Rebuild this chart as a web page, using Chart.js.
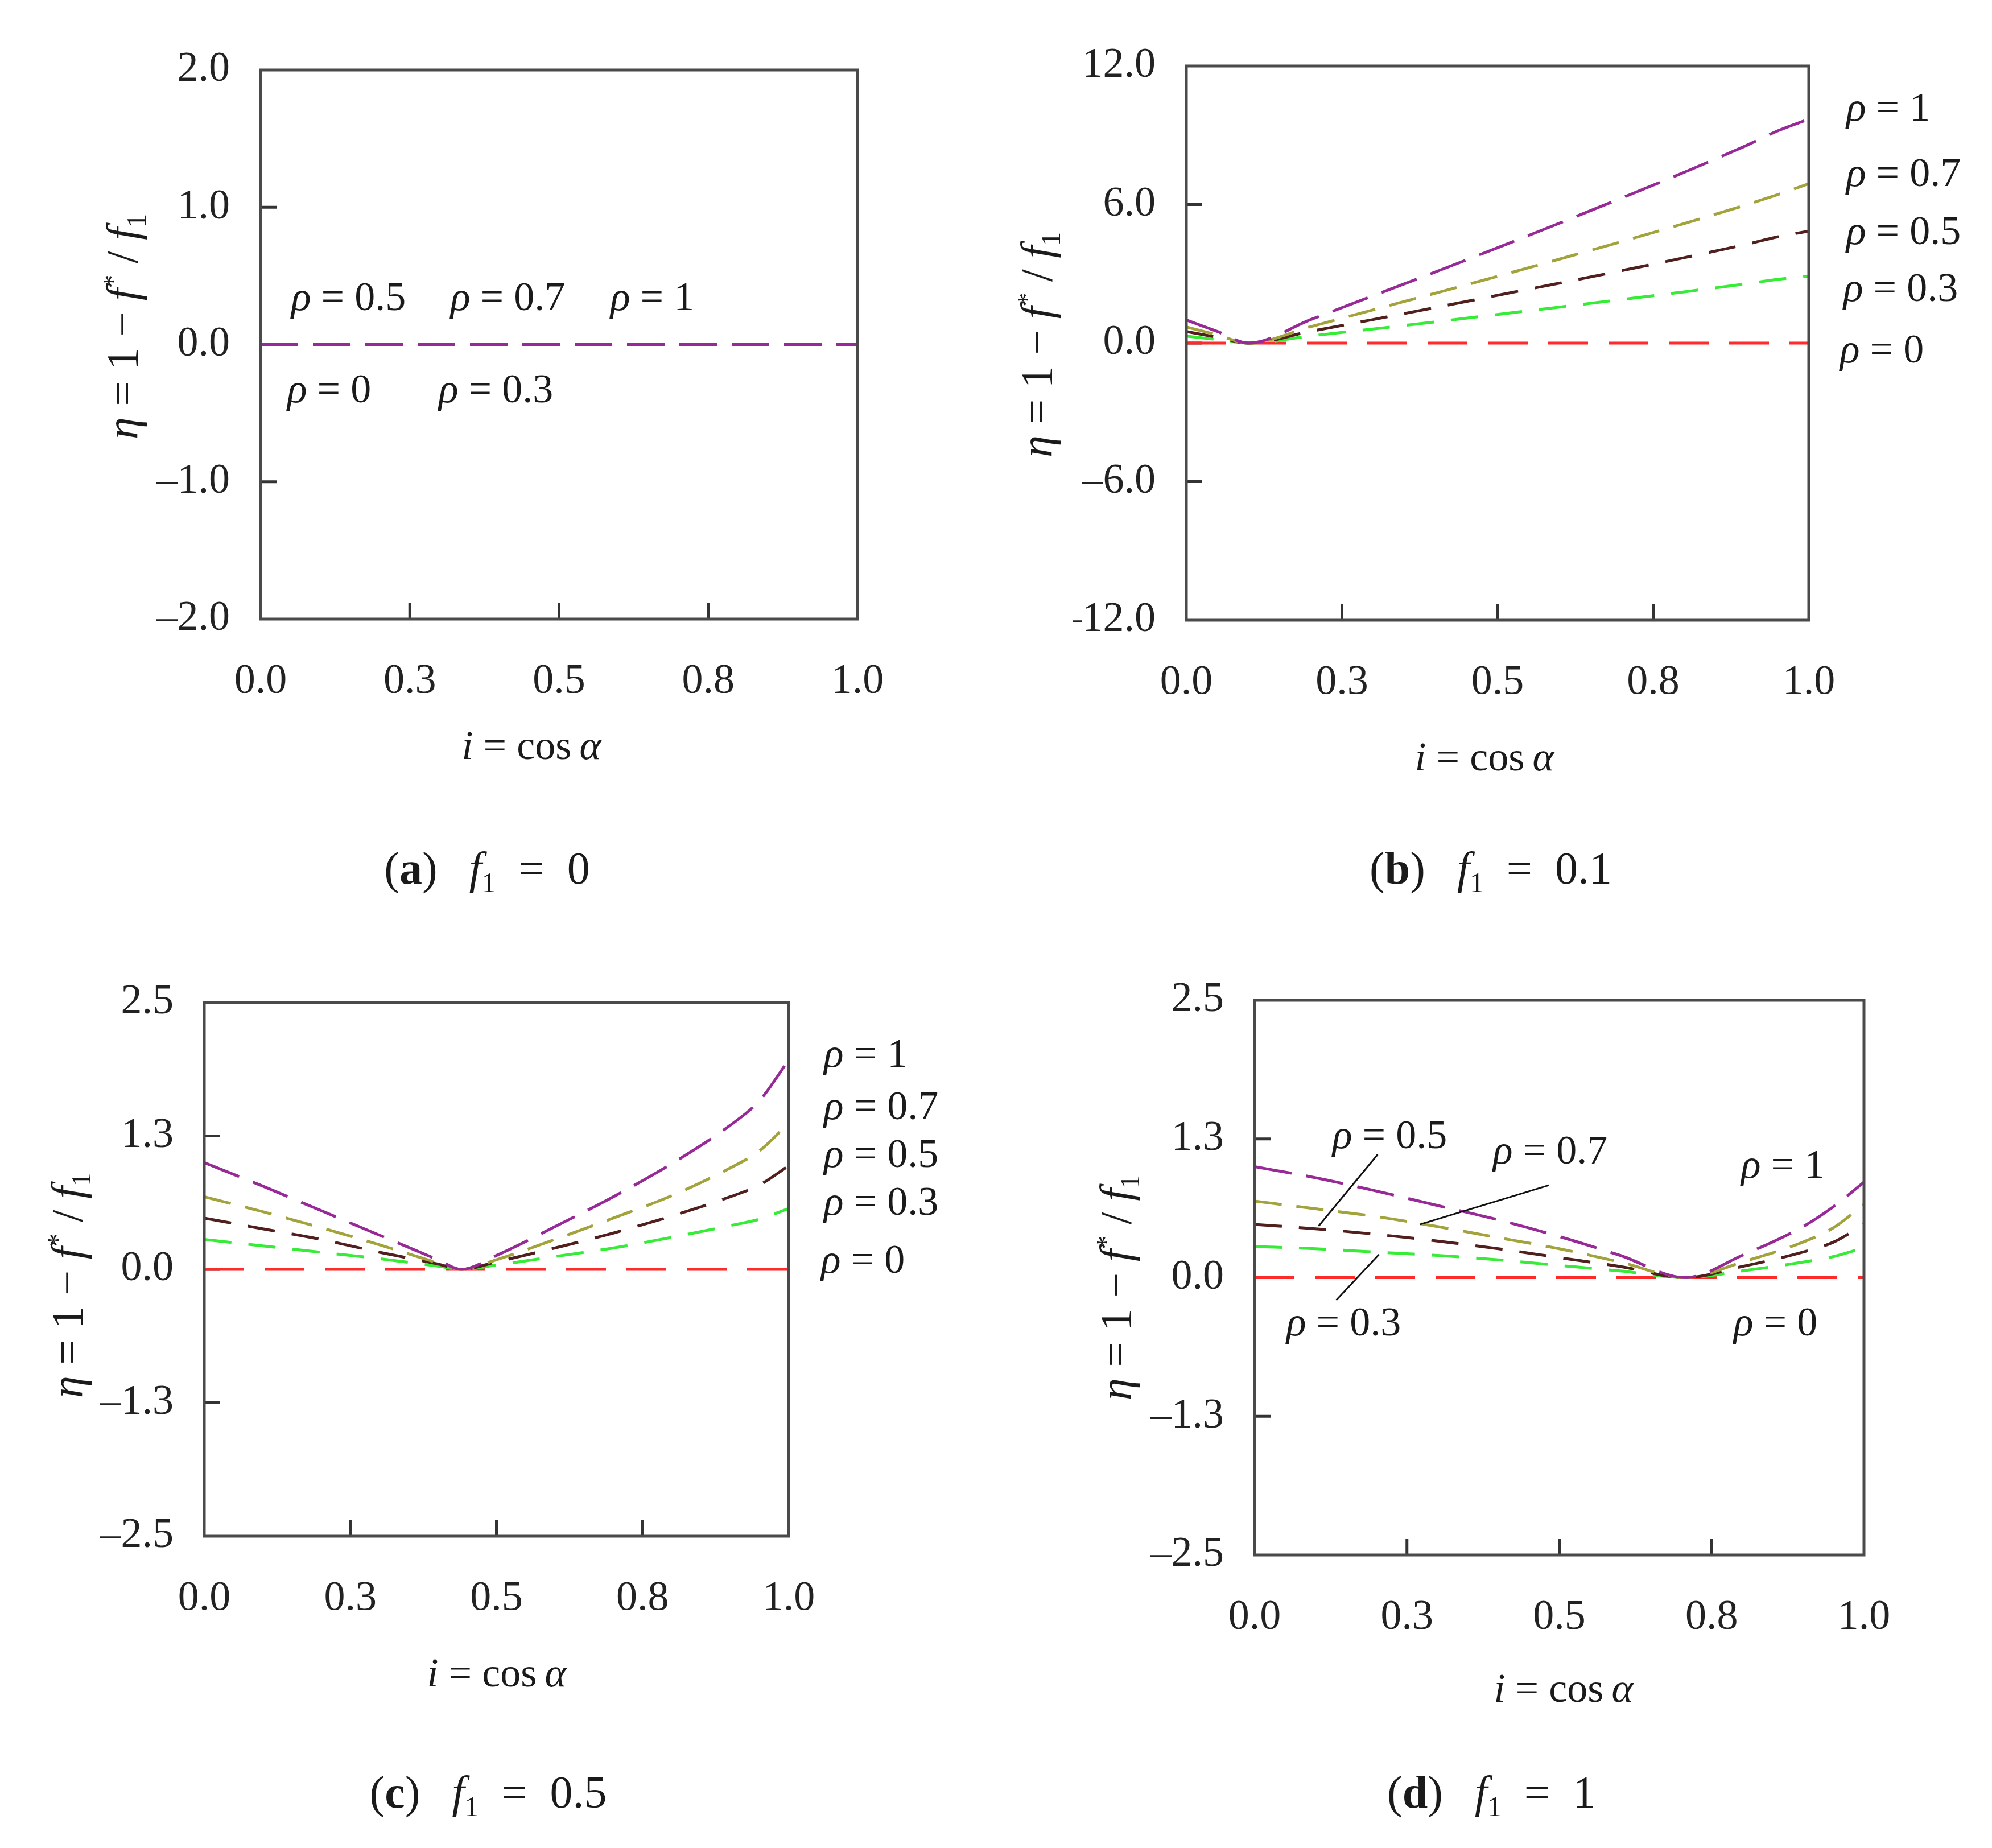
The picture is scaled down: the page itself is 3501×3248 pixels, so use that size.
<!DOCTYPE html>
<html>
<head>
<meta charset="utf-8">
<script src="https://cdn.jsdelivr.net/npm/chart.js@4.4.1/dist/chart.umd.min.js"></script>
<style>
  html, body { margin: 0; padding: 0; background: #fff; }
  #page { position: relative; width: 3501px; height: 3248px; overflow: hidden;
          font-family: "Liberation Serif", "Times New Roman", serif; color: #1a1a1a; }
  #page canvas { position: absolute; }
  .t { position: absolute; white-space: nowrap; line-height: 1; font-size: 72px; }
  .lbl { transform: translate(0, -50%); }
  .mid { transform: translate(-50%, -50%); }
  .cap { font-size: 80px; }
  .ytitle { font-size: 78px; transform: translate(-50%, -50%) rotate(-90deg); }
  .t sub { font-size: 0.62em; vertical-align: -0.3em; line-height: 0; }
  .t sup { font-size: 0.62em; vertical-align: 0.55em; line-height: 0; }
</style>
</head>
<body>
<div id="page"></div>
<script>
// ---------- data ----------
const xTickValues = [0, 0.25, 0.5, 0.75, 1];
const xTickLabels = ["0.0", "0.3", "0.5", "0.8", "1.0"];
const rhoLabels = ["ρ = 1", "ρ = 0.7", "ρ = 0.5", "ρ = 0.3", "ρ = 0"];

// (a) f1 = 0
const yTicksA = [-2, -1, 0, 1, 2];
const yLabelsA = ["–2.0", "–1.0", "0.0", "1.0", "2.0"];
const xA = [0, 1];
const a_rho1 = [0, 0];
const a_rho07 = [0, 0];
const a_rho05 = [0, 0];
const a_rho03 = [0, 0];
const a_rho0 = [0, 0];

// (b) f1 = 0.1
const yTicksB = [-12, -6, 0, 6, 12];
const yLabelsB = ["–12.0", "–6.0", "0.0", "6.0", "12.0"];
const xB = [0, 0.05, 0.1, 0.2, 0.3, 0.4, 0.5, 0.6, 0.7, 0.8, 0.9, 0.95, 1.0];
const b_rho1 = [1.0, 0.5, 0, 1.02, 2.05, 3.08, 4.13, 5.2, 6.29, 7.4, 8.56, 9.19, 9.7];
const b_rho07 = [0.7, 0.35, 0, 0.71, 1.44, 2.16, 2.89, 3.64, 4.4, 5.18, 5.99, 6.43, 6.9];
const b_rho05 = [0.5, 0.25, 0, 0.51, 1.02, 1.54, 2.07, 2.6, 3.14, 3.7, 4.28, 4.6, 4.85];
const b_rho03 = [0.3, 0.15, 0, 0.31, 0.61, 0.92, 1.24, 1.56, 1.89, 2.22, 2.57, 2.76, 2.9];
const b_rho0 = [0, 0, 0, 0, 0, 0, 0, 0, 0, 0, 0, 0, 0];

// (c) f1 = 0.5
const yTicksC = [-2.5, -1.25, 0, 1.25, 2.5];
const yLabelsC = ["–2.5", "–1.3", "0.0", "1.3", "2.5"];
const xC = [0, 0.1, 0.2, 0.3, 0.4, 0.44, 0.5, 0.6, 0.7, 0.8, 0.9, 0.95, 1.0];
const c_rho1 = [1.0, 0.78, 0.55, 0.32, 0.09, 0, 0.13, 0.4, 0.68, 0.99, 1.35, 1.58, 1.96];
const c_rho07 = [0.68, 0.54, 0.39, 0.23, 0.06, 0, 0.09, 0.28, 0.48, 0.69, 0.95, 1.11, 1.37];
const c_rho05 = [0.48, 0.38, 0.28, 0.16, 0.05, 0, 0.07, 0.2, 0.34, 0.5, 0.68, 0.79, 0.97];
const c_rho03 = [0.28, 0.22, 0.16, 0.1, 0.03, 0, 0.04, 0.12, 0.2, 0.3, 0.41, 0.47, 0.57];
const c_rho0 = [0, 0, 0, 0, 0, 0, 0, 0, 0, 0, 0, 0, 0];

// (d) f1 = 1
const yTicksD = [-2.5, -1.25, 0, 1.25, 2.5];
const yLabelsD = ["–2.5", "–1.3", "0.0", "1.3", "2.5"];
const xD = [0, 0.1, 0.2, 0.3, 0.4, 0.5, 0.6, 0.707, 0.8, 0.9, 0.95, 1.0];
const d_rho1 = [1.0, 0.9, 0.78, 0.65, 0.52, 0.37, 0.2, 0, 0.2, 0.46, 0.64, 0.86];
const d_rho07 = [0.69, 0.62, 0.55, 0.46, 0.36, 0.26, 0.14, 0, 0.14, 0.32, 0.45, 0.66];
const d_rho05 = [0.48, 0.44, 0.39, 0.33, 0.26, 0.18, 0.1, 0, 0.1, 0.23, 0.32, 0.48];
const d_rho03 = [0.28, 0.26, 0.23, 0.2, 0.16, 0.11, 0.06, 0, 0.06, 0.14, 0.19, 0.27];
const d_rho0 = [0, 0, 0, 0, 0, 0, 0, 0, 0, 0, 0, 0];

// ---------- styles ----------
const rhoColors = ["#972a97", "#a3a33c", "#521f1f", "#36ec36", "#ff2b2b"];
const rhoDash = [[66, 26], [48, 26], [48, 30], [48, 30], [70, 36]];
const FONT = "'Liberation Serif', 'Times New Roman', serif";

const page = document.getElementById("page");
const PAD = { l: 260, t: 120, r: 160, b: 160 };
const Y_W = 200, X_H = 130;

// frame, inner tick marks, leader lines
const framePlugin = {
  id: "frame",
  beforeDatasetsDraw(chart) {
    const { ctx, chartArea: a, scales: { x, y } } = chart;
    ctx.save();
    ctx.strokeStyle = "#333";
    ctx.lineWidth = 5;
    ctx.beginPath();
    x.ticks.slice(1, -1).forEach(t => {
      const px = x.getPixelForValue(t.value);
      ctx.moveTo(px, a.bottom); ctx.lineTo(px, a.bottom - 28);
    });
    y.ticks.slice(1, -1).forEach(t => {
      const py = y.getPixelForValue(t.value);
      ctx.moveTo(a.left, py); ctx.lineTo(a.left + 28, py);
    });
    ctx.stroke();
    ctx.restore();
  },
  afterDatasetsDraw(chart, args, opts) {
    const { ctx, chartArea: a, scales: { x, y } } = chart;
    ctx.save();
    ctx.setLineDash([]);
    ctx.strokeStyle = "#4a4a4a";
    ctx.lineWidth = 5;
    ctx.strokeRect(a.left, a.top, a.width, a.height);
    ctx.strokeStyle = "#111";
    ctx.lineWidth = 3;
    (opts.leaders || []).forEach(l => {
      ctx.beginPath();
      ctx.moveTo(x.getPixelForValue(l[0]), y.getPixelForValue(l[1]));
      ctx.lineTo(x.getPixelForValue(l[2]), y.getPixelForValue(l[3]));
      ctx.stroke();
    });
    ctx.restore();
  }
};

function makePanel(box, xs, series, yMin, yMax, yTicks, yLabels, leaders, sameDash) {
  const cv = document.createElement("canvas");
  const w = box.r - box.l + PAD.l + PAD.r;
  const h = box.b - box.t + PAD.t + PAD.b;
  cv.width = w; cv.height = h;
  cv.style.width = w + "px"; cv.style.height = h + "px";
  cv.style.left = (box.l - PAD.l) + "px";
  cv.style.top = (box.t - PAD.t) + "px";
  page.appendChild(cv);

  new Chart(cv, {
    type: "line",
    data: {
      datasets: series.map((ys, k) => ({
        label: rhoLabels[k],
        data: xs.map((x, i) => ({ x: x, y: ys[i] })),
        borderColor: rhoColors[k],
        borderWidth: 5,
        borderDash: sameDash ? rhoDash[0] : rhoDash[k],
        pointRadius: 0,
        fill: false,
        cubicInterpolationMode: "monotone"
      }))
    },
    options: {
      responsive: false,
      animation: false,
      devicePixelRatio: 1,
      layout: { padding: { left: PAD.l - Y_W, top: PAD.t, right: PAD.r, bottom: PAD.b - X_H } },
      plugins: { legend: { display: false }, tooltip: { enabled: false }, frame: { leaders: leaders || [] } },
      scales: {
        x: {
          type: "linear", min: 0, max: 1,
          grid: { display: false, drawTicks: false },
          border: { display: false },
          afterBuildTicks: s => { s.ticks = xTickValues.map(v => ({ value: v })); },
          afterFit: s => { s.height = X_H; },
          ticks: {
            autoSkip: false, maxRotation: 0, padding: 66, color: "#222",
            font: { family: FONT, size: 74 },
            callback: (v, i) => xTickLabels[i]
          }
        },
        y: {
          type: "linear", min: yMin, max: yMax,
          grid: { display: false, drawTicks: false },
          border: { display: false },
          afterBuildTicks: s => { s.ticks = yTicks.map(v => ({ value: v })); },
          afterFit: s => { s.width = Y_W; },
          ticks: {
            autoSkip: false, padding: 54, color: "#222",
            font: { family: FONT, size: 74 },
            callback: (v, i) => yLabels[i]
          }
        }
      }
    },
    plugins: [framePlugin]
  });
}

function addText(html, x, y, cls) {
  const d = document.createElement("div");
  d.className = "t " + cls;
  d.style.left = x + "px";
  d.style.top = y + "px";
  d.innerHTML = html;
  page.appendChild(d);
}

const rho = v => "<i>ρ</i> = " + v;
const yTitle = "<i>η</i> = 1 − <i>f</i><sup>*</sup> / <i>f</i><sub>1</sub>";
const xTitle = "<i>i</i> = cos&thinsp;<i>α</i>";
const caption = (c, v) => "(<b>" + c + "</b>)&ensp;&thinsp;<i>f</i><sub>1</sub>&ensp;=&ensp;" + v;

// (a)
makePanel({ l: 458, t: 123, r: 1507, b: 1088 }, xA,
  [a_rho1, a_rho07, a_rho05, a_rho03, a_rho0], -2, 2, yTicksA, yLabelsA, null, true);
addText(rho("0.5"), 512, 521, "lbl");
addText(rho("0.7"), 792, 521, "lbl");
addText(rho("1"), 1073, 521, "lbl");
addText(rho("0"), 505, 683, "lbl");
addText(rho("0.3"), 771, 683, "lbl");
addText(yTitle, 215, 574, "ytitle");
addText(xTitle, 934, 1310, "mid");
addText(caption("a", "0"), 856, 1526, "mid cap");

// (b)
makePanel({ l: 2085, t: 116, r: 3179, b: 1090 }, xB,
  [b_rho1, b_rho07, b_rho05, b_rho03, b_rho0], -12, 12, yTicksB, yLabelsB);
addText(rho("1"), 3245, 188, "lbl");
addText(rho("0.7"), 3245, 303, "lbl");
addText(rho("0.5"), 3245, 405, "lbl");
addText(rho("0.3"), 3240, 505, "lbl");
addText(rho("0"), 3234, 613, "lbl");
addText(yTitle, 1822, 606, "ytitle");
addText(xTitle, 2609, 1330, "mid");
addText(caption("b", "0.1"), 2620, 1526, "mid cap");

// (c)
makePanel({ l: 359, t: 1762, r: 1386, b: 2700 }, xC,
  [c_rho1, c_rho07, c_rho05, c_rho03, c_rho0], -2.5, 2.5, yTicksC, yLabelsC);
addText(rho("1"), 1448, 1851, "lbl");
addText(rho("0.7"), 1448, 1943, "lbl");
addText(rho("0.5"), 1448, 2027, "lbl");
addText(rho("0.3"), 1448, 2111, "lbl");
addText(rho("0"), 1443, 2213, "lbl");
addText(yTitle, 118, 2259, "ytitle");
addText(xTitle, 873, 2940, "mid");
addText(caption("c", "0.5"), 858, 3150, "mid cap");

// (d)
makePanel({ l: 2205, t: 1758, r: 3276, b: 2733 }, xD,
  [d_rho1, d_rho07, d_rho05, d_rho03, d_rho0], -2.5, 2.5, yTicksD, yLabelsD,
  [[0.202, 1.11, 0.105, 0.464], [0.483, 0.833, 0.271, 0.479], [0.204, 0.208, 0.134, -0.203]]);
addText(rho("0.5"), 2342, 1994, "lbl");
addText(rho("0.7"), 2624, 2021, "lbl");
addText(rho("1"), 3060, 2046, "lbl");
addText(rho("0"), 3047, 2323, "lbl");
addText(rho("0.3"), 2261, 2323, "lbl");
addText(yTitle, 1961, 2263, "ytitle");
addText(xTitle, 2748, 2967, "mid");
addText(caption("d", "1"), 2621, 3150, "mid cap");
</script>
</body>
</html>
